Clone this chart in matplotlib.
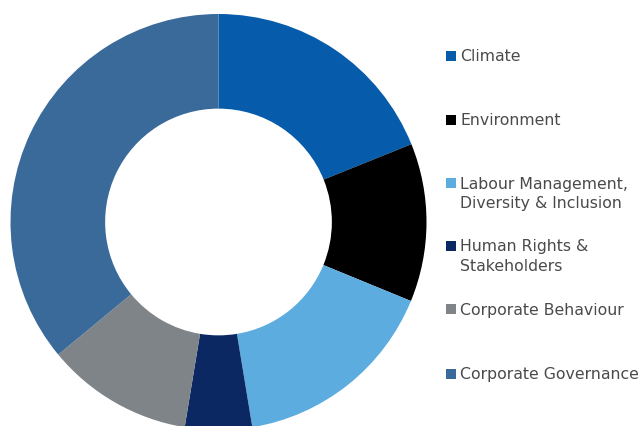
import matplotlib
matplotlib.use("Agg")
import matplotlib.pyplot as plt
from matplotlib.patches import Rectangle

labels = ["Climate", "Environment", "Labour Management,\nDiversity & Inclusion",
          "Human Rights &\nStakeholders", "Corporate Behaviour", "Corporate Governance"]
values = [18.9, 12.3, 16.2, 5.2, 11.4, 36.0]
colors = ["#065CAB", "#000000", "#5DACDF", "#0C2862", "#7E8487", "#3A6A99"]

# legend rows: top y of the marker square, in pixels from the top
legend_y = [50.7, 115, 178.3, 241, 304.3, 369]

W, H = 642, 426
fig = plt.figure(figsize=(W / 100, H / 100), dpi=100)

# donut: centre (218.5, 222) px, outer radius 208 px
cx, cy, r = 218.5, 222, 208
ax = fig.add_axes([(cx - r) / W, (H - cy - r) / H, 2 * r / W, 2 * r / H])
wedges, _ = ax.pie(values, colors=colors, startangle=90, counterclock=False,
                   radius=1, wedgeprops=dict(width=0.455, linewidth=0))
for w in wedges:
    w.set_clip_on(False)
ax.set_xlim(-1, 1)
ax.set_ylim(-1, 1)
ax.set_aspect("equal")
ax.axis("off")

# legend drawn by hand so the two-line labels line up like the original
sq = 10
for lab, col, y in zip(labels, colors, legend_y):
    fig.patches.append(Rectangle((446 / W, (H - y - sq) / H), sq / W, sq / H,
                                 transform=fig.transFigure, color=col, lw=0))
    for i, line in enumerate(lab.split("\n")):
        base = y + 10.2 + i * 19.8
        fig.text(460 / W, (H - base) / H, line, ha="left", va="baseline",
                 fontsize=11.3, family="DejaVu Sans", color="#4A4A4A")

fig.savefig("out.png", dpi=100)
